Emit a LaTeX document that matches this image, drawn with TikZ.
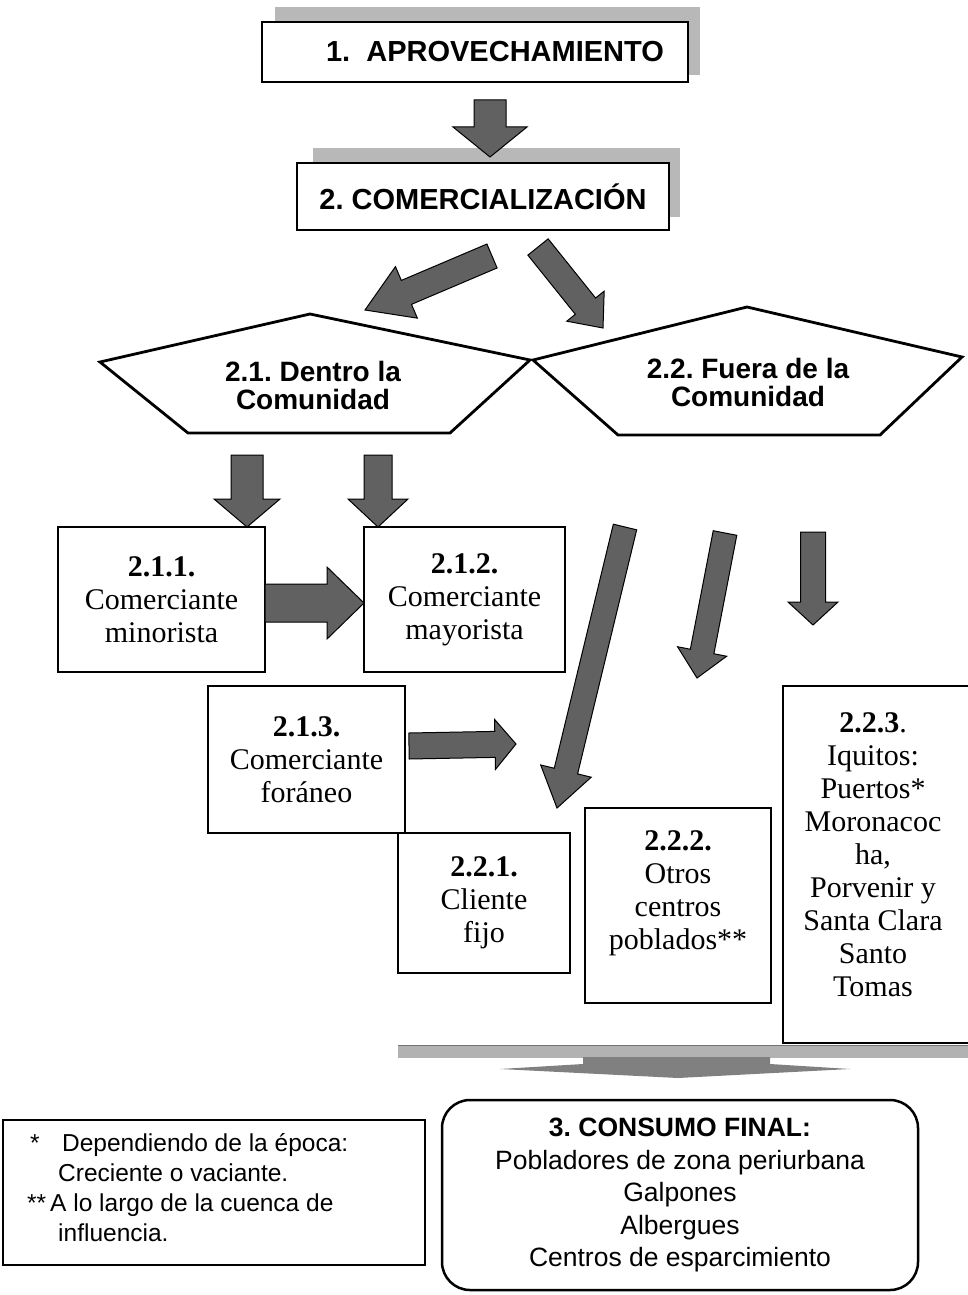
\documentclass[tikz,border=0pt]{standalone}
\usepackage{fontspec}
\setmainfont{Liberation Serif}
\setsansfont{Liberation Sans}
\usetikzlibrary{calc}
\frenchspacing

\newcommand{\blockarr}[5]{%
  \path ($(#2)!#5!(#1)$) coordinate (hb);
  \filldraw[blockarrow] ($(#1)!#3!90:(#2)$) -- ($(hb)!#3!90:(#2)$) -- ($(hb)!#4!90:(#2)$) -- (#2)
    -- ($(hb)!#4!-90:(#2)$) -- ($(hb)!#3!-90:(#2)$) -- ($(#1)!#3!-90:(#2)$) -- cycle;
}

\begin{document}
\begin{tikzpicture}[x=1pt,y=-1pt,
    plainbox/.style={draw, line width=2.5pt, inner sep=0pt, align=center},
    topbox/.style={plainbox, font=\sffamily\bfseries\fontsize{29}{32}\selectfont},
    midbox/.style={plainbox, font=\fontsize{30}{33}\selectfont},
    midtext/.style={align=center, inner sep=0pt, font=\fontsize{30}{33}\selectfont},
    backshade/.style={fill=black!28},
    penta/.style={draw, line width=2.8pt, line join=miter},
    pentatext/.style={align=center, inner sep=0pt, font=\sffamily\bfseries\fontsize{28}{28}\selectfont},
    blockarrow/.style={fill=black!62, draw=black, line width=1pt, line join=miter}]
        \fill[white] (0,0) rectangle (967,1295);
        \useasboundingbox (0,0) rectangle (967,1295);

        \fill[backshade] (275,7) rectangle (700,75);
        \fill[backshade] (313,148) rectangle (680,217);
        \node[topbox, fill=white, minimum width=426, minimum height=60] (aprov) at (475,52) {\hspace*{40pt}1.\ \ APROVECHAMIENTO};
        \node[topbox, fill=white, minimum width=372, minimum height=67] (comer) at (483,196.5) {2. COMERCIALIZACIÓN};

        \draw[penta] (100,362) -- (310,314) -- (530,360) -- (450,433) -- (188,433) -- cycle;
        \draw[penta] (533,360) -- (747,307) -- (962,357) -- (880,435) -- (618,435) -- cycle;
        \node[pentatext] (dentro) at (313,385) {2.1. Dentro la\\Comunidad};
        \node[pentatext] (fuera) at (748,382) {2.2. Fuera de la\\Comunidad};

        \node[midbox, minimum width=207, minimum height=145] (minor) at (161.5,599.5) {\textbf{2.1.1.}\\Comerciante\\minorista};
        \node[midbox, minimum width=201, minimum height=145] (mayor) at (464.5,599.5) {\textbf{2.1.2.}\\Comerciante\\mayorista};
        \node[midbox, minimum width=197, minimum height=147] (foran) at (306.5,759.5) {\textbf{2.1.3.}\\Comerciante\\foráneo};
        \node[midbox, minimum width=172, minimum height=140] (fijo) at (484,903) {\textbf{2.2.1.}\\Cliente\\fijo};
        \node[plainbox, minimum width=186, minimum height=195] (otros) at (678,905.5) {};
        \node[midtext] (otrostxt) at (678,893) {\textbf{2.2.2.}\\Otros\\centros\\poblados**};
        \node[plainbox, minimum width=207, minimum height=357] (iquitos) at (886.5,864.5) {};
        \node[midtext] (iquitostxt) at (873,855) {\textbf{2.2.3}.\\Iquitos:\\Puertos*\\Moronacoc\\ha,\\Porvenir y\\Santa Clara\\Santo\\Tomas};

        \coordinate (a1s) at (490,100);
        \coordinate (a1e) at (490,157);
        \coordinate (a2s) at (492,256);
        \coordinate (a2e) at (365,310);
        \coordinate (a3s) at (538,247);
        \coordinate (a3e) at (603,328);
        \coordinate (a4s) at (247,455);
        \coordinate (a4e) at (247,527);
        \coordinate (a5s) at (378,455);
        \coordinate (a5e) at (378,527);
        \coordinate (a6s) at (265,603);
        \coordinate (a6e) at (364,603);
        \coordinate (a7s) at (409,746);
        \coordinate (a7e) at (516,744);
        \coordinate (a8s) at (625,527);
        \coordinate (a8e) at (557,808);
        \coordinate (a9s) at (725,533);
        \coordinate (a9e) at (697,678);
        \coordinate (a10s) at (813,532);
        \coordinate (a10e) at (813,625);
        \blockarr{a1s}{a1e}{16pt}{37pt}{30pt}
        \blockarr{a2s}{a2e}{13pt}{28pt}{45pt}
        \blockarr{a3s}{a3e}{13pt}{24pt}{28pt}
        \blockarr{a4s}{a4e}{16pt}{33pt}{28pt}
        \blockarr{a5s}{a5e}{14pt}{30pt}{28pt}
        \blockarr{a6s}{a6e}{19pt}{36pt}{37pt}
        \blockarr{a7s}{a7e}{13pt}{25pt}{21pt}
        \blockarr{a8s}{a8e}{12pt}{26pt}{38pt}
        \blockarr{a9s}{a9e}{12pt}{25pt}{27pt}
        \blockarr{a10s}{a10e}{12.5pt}{25pt}{23pt}

        \fill[black!30] (398,1045) rectangle (975,1058);
        \draw[black!55, line width=1pt] (398,1045) -- (975,1045);
        \fill[black!50] (583,1057) -- (770,1057) -- (770,1064) -- (850,1069) -- (678,1078) -- (500,1069) -- (583,1064) -- cycle;

        \node[draw, line width=1.2pt, minimum width=422, minimum height=145, inner sep=0pt] (legend) at (214,1192.5) {};
        \node[anchor=west, align=left, inner sep=0pt, font=\sffamily\fontsize{24.5}{30}\selectfont] (legtxt) at (24,1188)
            {\makebox[38pt][l]{\hspace{6pt}*}Dependiendo de la época:\\
             \hspace*{34pt}Creciente o vaciante.\\
             \makebox[26pt][l]{\hspace{3pt}**}A lo largo de la cuenca de\\
             \hspace*{34pt}influencia.};

        \node[draw, line width=2.5pt, rounded corners=28pt, minimum width=476, minimum height=190, inner sep=0pt, align=center,
              font=\sffamily\fontsize{26.5}{32.5}\selectfont] (consumo) at (680,1195)
            {\textbf{3. CONSUMO FINAL:}\\Pobladores de zona periurbana\\Galpones\\Albergues\\Centros de esparcimiento};
\end{tikzpicture}
\end{document}
